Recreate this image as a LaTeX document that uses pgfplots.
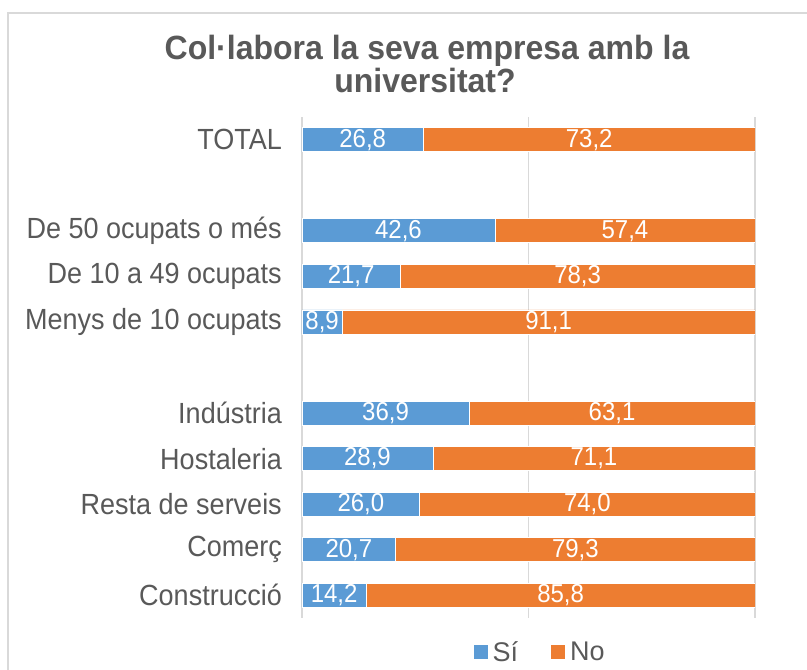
\documentclass[border=0pt]{standalone}
\usepackage{pgfplots}
\usepackage{pgfplotstable}
\pgfplotsset{compat=1.18}
\usepackage{fontspec}
\setmainfont{Liberation Sans}
\definecolor{cblue}{HTML}{5B9BD5}
\definecolor{corange}{HTML}{ED7D31}
\definecolor{ctext}{HTML}{595959}
\definecolor{cgrid}{HTML}{D9D9D9}
\pgfplotstableread{
y si no
0 26.8 73.2
2 42.6 57.4
3 21.7 78.3
4 8.9 91.1
6 36.9 63.1
7 28.9 71.1
8 26.0 74.0
9 20.7 79.3
10 14.2 85.8
}\data
\begin{document}
\begin{tikzpicture}
\useasboundingbox (0pt,0pt) rectangle (807pt,670pt);
\clip (0pt,0pt) rectangle (807pt,670pt);
\fill[white] (0pt,0pt) rectangle (807pt,670pt);
\draw[cgrid, line width=1.2pt] (8pt,-20pt) -- (8pt,657pt) -- (900pt,657pt);
\node[anchor=base, text=ctext, font=\fontsize{32}{34}\selectfont\bfseries, inner sep=0pt, yscale=1.05] at (427pt,610pt) {Col·labora la seva empresa amb la};
\node[anchor=base, text=ctext, font=\fontsize{32}{34}\selectfont\bfseries, inner sep=0pt, yscale=1.05] at (425pt,577pt) {universitat?};
\begin{axis}[
  at={(302pt,52pt)}, anchor=south west,
  scale only axis, width=453pt, height=501pt,
  xbar stacked, bar width=24pt,
  xmin=0, xmax=100, ymin=-0.5, ymax=10.5, y dir=reverse,
  axis line style={draw=none},
  xtick={0,50,100}, xticklabels={}, xmajorgrids,
  grid style={cgrid, line width=1.2pt},
  ytick={0,2,3,4,6,7,8,9,10},
  yticklabels={TOTAL, De 50 ocupats o més, De 10 a 49 ocupats, Menys de 10 ocupats, Indústria, Hostaleria, Resta de serveis, Comerç, Construcció},
  tick style={draw=none},
  yticklabel style={font=\fontsize{27}{30}\selectfont, text=ctext, inner sep=0pt, xshift=-20pt, yscale=1.08},
  legend style={at={(0.529,0)}, anchor=center, yshift=-34pt, draw=none, fill=none,
    font=\fontsize{27}{30}\selectfont, text=ctext, nodes={inner sep=5pt},
    /tikz/every even column/.append style={column sep=28pt}},
  legend columns=2,
  legend image code/.code={\fill[#1, draw=none] (0pt,-7pt) rectangle (14pt,7pt);},
]
\addplot[fill=cblue, draw=white, line width=0.8pt] table[x=si, y=y] {\data};
\addplot[fill=corange, draw=white, line width=0.8pt] table[x=no, y=y] {\data};
\legend{Sí, No}
\end{axis}
\begin{axis}[
  at={(302pt,52pt)}, anchor=south west,
  scale only axis, width=453pt, height=501pt,
  xmin=0, xmax=100, ymin=-0.5, ymax=10.5, y dir=reverse,
  hide axis,
  nodes near coords={\pgfmathprintnumber[fixed, fixed zerofill, precision=1, use comma, assume math mode=true]{\pgfplotspointmeta}},
  nodes near coords align={center},
  every node near coord/.append style={anchor=center, text=white, font=\fontsize{24}{28}\selectfont, inner sep=0pt, yscale=1.08},
  point meta=explicit,
]
\addplot[draw=none, mark=none] table[x expr=\thisrow{si}/2, y=y, meta=si] {\data};
\addplot[draw=none, mark=none] table[x expr=\thisrow{si}+\thisrow{no}/2, y=y, meta=no] {\data};
\end{axis}
\end{tikzpicture}
\end{document}
